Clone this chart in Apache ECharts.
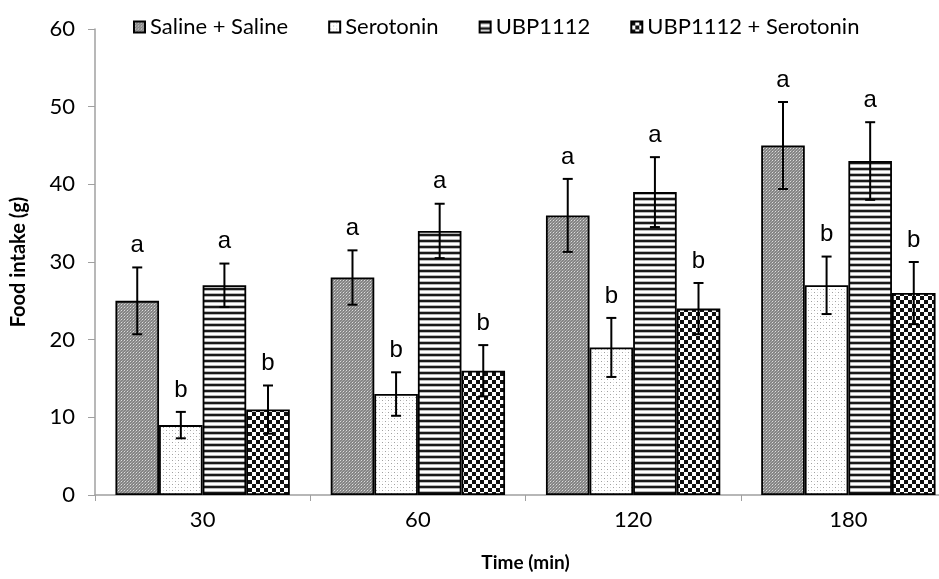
<!DOCTYPE html>
<html>
<head>
<meta charset="utf-8">
<script src="https://cdn.jsdelivr.net/npm/echarts@6/dist/echarts.min.js"></script>
<style>html,body{margin:0;padding:0;background:#fff;overflow:hidden;width:939px;height:579px}#c{width:960px;height:579px}</style>
</head>
<body>
<div id="c"></div>
<script>
const categories = ['30', '60', '120', '180'];
const seriesNames = ['Saline + Saline', 'Serotonin', 'UBP1112', 'UBP1112 + Serotonin'];
const salineMean = [25, 28, 36, 45];
const serotoninMean = [9, 13, 19, 27];
const ubpMean = [27, 34, 39, 43];
const ubpSerMean = [11, 16, 24, 26];
const salineErr = [4.3, 3.5, 4.7, 5.6];
const serotoninErr = [1.7, 2.8, 3.8, 3.7];
const ubpErr = [2.8, 3.5, 4.5, 5.0];
const ubpSerErr = [3.1, 3.3, 3.3, 4.0];
const salineLetters = ['a', 'a', 'a', 'a'];
const serotoninLetters = ['b', 'b', 'b', 'b'];
const ubpLetters = ['a', 'a', 'a', 'a'];
const ubpSerLetters = ['b', 'b', 'b', 'b'];
const yTicks = [0, 10, 20, 30, 40, 50, 60];

const means = [salineMean, serotoninMean, ubpMean, ubpSerMean];
const errs = [salineErr, serotoninErr, ubpErr, ubpSerErr];
const letters = [salineLetters, serotoninLetters, ubpLetters, ubpSerLetters];

function pat(w, h, draw) {
  const c = document.createElement('canvas');
  c.width = w; c.height = h;
  const g = c.getContext('2d');
  draw(g);
  return { image: c, repeat: 'repeat' };
}
const patterns = [
  pat(3, 3, g => { g.fillStyle = '#858585'; g.fillRect(0,0,3,3); g.fillStyle = '#dcdcdc'; g.fillRect(1,1,1,1); g.fillStyle='#aaaaaa'; g.fillRect(2,0,1,1); g.fillRect(0,2,1,1); }),
  pat(6, 6, g => { g.fillStyle = '#ffffff'; g.fillRect(0,0,6,6); g.fillStyle = '#a0a0a0'; g.fillRect(1,1,1,1); g.fillRect(4,4,1,1); g.fillStyle='#e0e0e0'; g.fillRect(4,1,1,1); g.fillRect(1,4,1,1); }),
  pat(6, 6, g => { g.fillStyle = '#ffffff'; g.fillRect(0,0,6,6); g.fillStyle = '#1a1a1a'; g.fillRect(0,0,6,2); g.fillStyle = '#b8b8b8'; g.fillRect(0,2,6,1); g.fillRect(0,5,6,1); }),
  pat(8, 8, g => { g.fillStyle = '#ffffff'; g.fillRect(0,0,8,8); g.fillStyle = '#111111'; g.fillRect(0,0,4,4); g.fillRect(4,4,4,4); })
];

const GAP = 0.19;
const series = [];
seriesNames.forEach((name, i) => {
  series.push({
    name: name,
    type: 'bar',
    data: means[i],
    barGap: '0%',
    barCategoryGap: (GAP * 100) + '%',
    itemStyle: { color: patterns[i], borderColor: '#000', borderWidth: 1.8 },
    emphasis: { disabled: true },
    z: 2
  });
});
seriesNames.forEach((name, i) => {
  series.push({
    type: 'custom',
    name: name + ' err',
    z: 5,
    silent: true,
    data: categories.map((c, k) => [k, means[i][k], errs[i][k]]),
    encode: { x: 0, y: 1 },
    renderItem: function (params, api) {
      const ci = api.value(0), m = api.value(1), e = api.value(2);
      const c = api.coord([ci, m]);
      const catW = api.size([1, 0])[0];
      const bw = catW * (1 - GAP) / 4;
      const x = c[0] - 2 * bw + bw * (i + 0.5);
      const top = api.coord([ci, m + e])[1];
      const bot = api.coord([ci, m - e])[1];
      const cap = 5;
      const st = { stroke: '#000', lineWidth: 2 };
      return {
        type: 'group',
        children: [
          { type: 'line', shape: { x1: x, y1: top, x2: x, y2: bot }, style: st },
          { type: 'line', shape: { x1: x - cap, y1: top, x2: x + cap, y2: top }, style: st },
          { type: 'line', shape: { x1: x - cap, y1: bot, x2: x + cap, y2: bot }, style: st },
          { type: 'text', style: { text: letters[i][params.dataIndex], x: x, y: top - 10, align: 'center', verticalAlign: 'bottom', fill: '#000', font: '24px "Liberation Sans", Arial, sans-serif' } }
        ]
      };
    }
  });
});

const chart = echarts.init(document.getElementById('c'), null, { renderer: 'canvas' });
chart.setOption({
  animation: false,
  backgroundColor: '#ffffff',
  grid: { left: 95, width: 861, top: 29, bottom: 84, containLabel: false },
  legend: {
    data: seriesNames,
    top: 11,
    left: 128,
    itemWidth: 11,
    itemHeight: 11,
    itemGap: 40,
    icon: 'rect',
    textStyle: { fontFamily: 'Lato', fontSize: 22, color: '#000' }
  },
  xAxis: {
    type: 'category',
    data: categories,
    name: 'Time (min)',
    nameLocation: 'middle',
    nameGap: 58,
    nameTextStyle: { fontFamily: 'Lato', fontWeight: 'bold', fontSize: 19, color: '#000' },
    axisLine: { lineStyle: { color: '#a0a0a0', width: 1.5 } },
    axisTick: { show: true, length: 6, lineStyle: { color: '#a0a0a0' } },
    axisLabel: { fontFamily: 'Lato', fontSize: 22, color: '#000', margin: 14 }
  },
  yAxis: {
    type: 'value',
    min: yTicks[0],
    max: yTicks[yTicks.length - 1],
    interval: 10,
    name: 'Food intake (g)',
    nameLocation: 'middle',
    nameGap: 66,
    nameTextStyle: { fontFamily: 'Lato', fontWeight: 'bold', fontSize: 20, color: '#000' },
    axisLine: { show: true, lineStyle: { color: '#a0a0a0', width: 1.5 } },
    axisTick: { show: true, length: 7, lineStyle: { color: '#a0a0a0' } },
    axisLabel: { fontFamily: 'Lato', fontSize: 22, color: '#000', margin: 20 },
    splitLine: { show: false }
  },
  series: series
});
</script>
</body>
</html>
